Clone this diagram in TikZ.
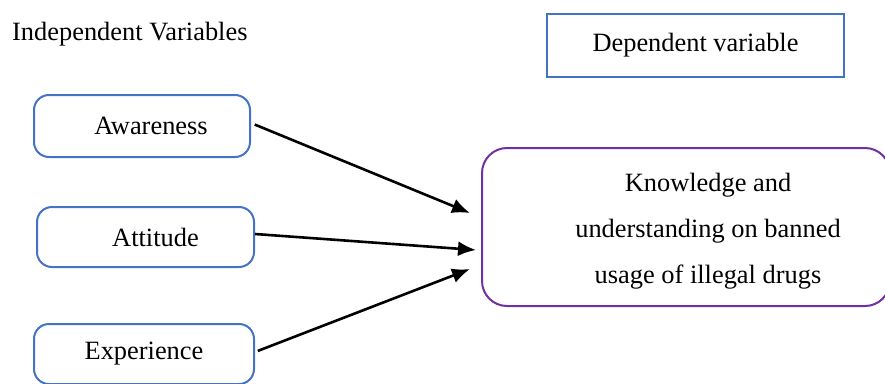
\documentclass[tikz,border=0pt]{standalone}
\usepackage{fontspec}
\setmainfont{Liberation Serif}
\usepackage{tikz}
\usetikzlibrary{arrows.meta,arrows}
\usetikzlibrary{positioning}
\definecolor{boxblue}{HTML}{4472C4}
\definecolor{boxpurple}{HTML}{7030A0}
\tikzset{
  varbox/.style={rectangle, draw=boxblue, line width=2pt, rounded corners=15pt, inner sep=0pt},
  headbox/.style={rectangle, draw=boxblue, line width=2pt, inner sep=0pt},
  outcome/.style={rectangle, draw=boxpurple, line width=2pt, rounded corners=25pt, inner sep=0pt},
  arrow/.style={draw, -{Latex[length=18pt, width=15pt]}, line width=2.6pt}
  }

\begin{document}
\begin{tikzpicture}[x=1pt, y=-1pt, font=\fontsize{26.4}{46}\selectfont]
	\useasboundingbox (0,0) rectangle (885,383);

	% Titles
	\node[anchor=base west, inner sep=0pt] (title) at (12,40) {Independent Variables};
	\node[headbox, minimum width=297pt, minimum height=63pt] (dep) at (695.5,45.5) {Dependent variable};

	% Nodes
	\node[varbox, minimum width=216pt, minimum height=62pt] (aware) at (142,126) {\hspace*{18pt}Awareness};
	\node[varbox, minimum width=217pt, minimum height=60pt] (attit) at (145.5,237) {\hspace*{20pt}Attitude};
	\node[varbox, minimum width=220pt, minimum height=60pt] (exper) at (144,354) {Experience};
	\node[outcome, minimum width=408pt, minimum height=158pt] (know) at (686,227) {};
	\node[align=center, inner sep=0pt] (knowtext) at (708,231) {Knowledge and\\understanding on banned\\usage of illegal drugs};

	% Arrow ends
	\coordinate (in1) at (470,213);
	\coordinate (in2) at (476,250);
	\coordinate (in3) at (470,269);

	% Arrows
	\draw [arrow, shorten <=4pt] ([yshift=3pt]aware.east) -- (in1);
	\draw [arrow] ([yshift=3pt]attit.east) -- (in2);
	\draw [arrow, shorten <=3pt] ([yshift=2pt]exper.east) -- (in3);

\end{tikzpicture}
\end{document}
